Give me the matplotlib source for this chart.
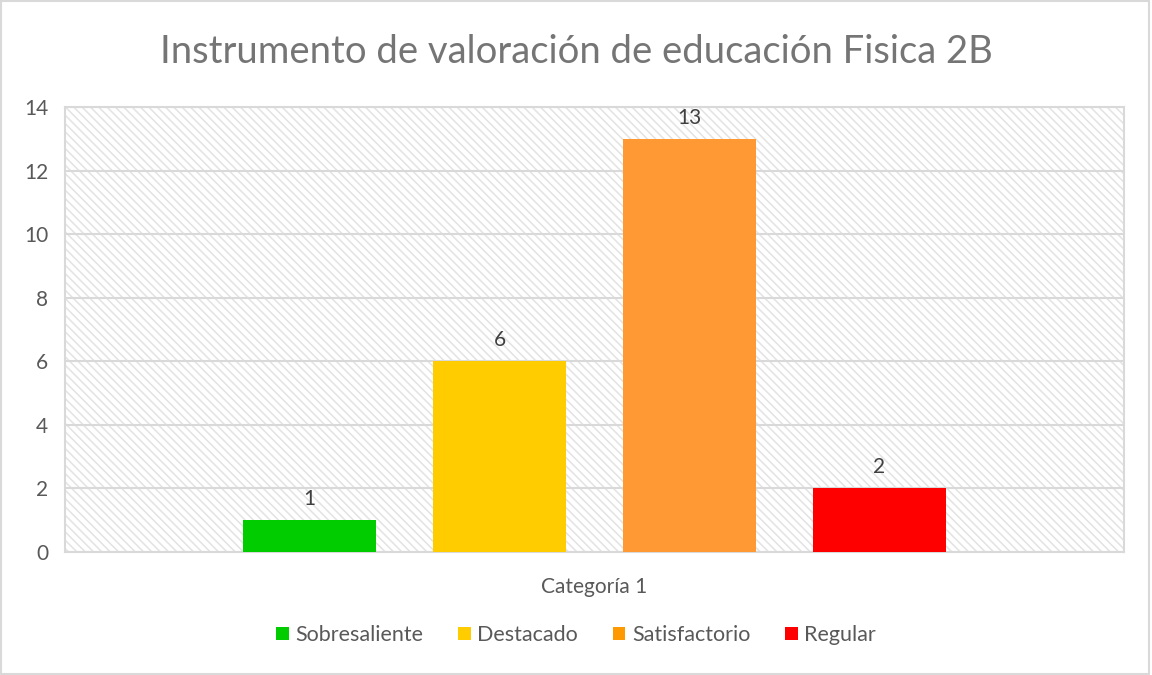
import matplotlib
matplotlib.use("Agg")
import matplotlib.pyplot as plt
from matplotlib.patches import Rectangle, Patch

categories = ["Categoría 1"]
series = ["Sobresaliente", "Destacado", "Satisfactorio", "Regular"]
values = [1, 6, 13, 2]
colors = ["#00CC00", "#FFCC00", "#FF9933", "#FF0000"]
legend_colors = ["#00CC00", "#FFCC00", "#FF9900", "#FF0000"]
yticks = [0, 2, 4, 6, 8, 10, 12, 14]
title = "Instrumento de valoración de educación Fisica 2B"

FONT = "Lato"
plt.rcParams["font.family"] = [FONT, "DejaVu Sans"]
plt.rcParams["hatch.linewidth"] = 1.1

fig = plt.figure(figsize=(11.52, 6.75), dpi=100)
ax = fig.add_axes([65/1152, 1-552/675, (1124-65)/1152, (552-107)/675])

# hatched background
bg = Rectangle((0, 0), 1, 1, transform=ax.transAxes, facecolor="white",
               edgecolor="#e3e3e3", linewidth=0, hatch="\\\\\\\\", zorder=0)
ax.add_patch(bg)
ax.set_facecolor("white")

spacing = 190/1059
width = 133/1059
for i, (s, v, c) in enumerate(zip(series, values, colors)):
    x = (i - 1.5) * spacing
    ax.bar(x, v, width=width, color=c, zorder=3, label=s)
    ax.text(x, v + 0.35, str(v), ha="center", va="bottom", fontsize=15,
            color="#404040", zorder=4)

ax.set_xlim(-0.5, 0.5)
ax.set_ylim(0, 14)
ax.set_yticks(yticks)
ax.set_yticklabels([str(t) for t in yticks], fontsize=15, color="#595959")
ax.set_xticks([0])
ax.set_xticklabels(categories, fontsize=15, color="#595959")
ax.tick_params(axis="x", length=0, pad=18)
ax.tick_params(axis="y", length=0, pad=12)
ax.yaxis.grid(True, color="#d9d9d9", linewidth=1.5, zorder=1)
ax.set_axisbelow(True)
for sp in ax.spines.values():
    sp.set_color("#d9d9d9")
    sp.set_linewidth(1.5)

fig.text(0.5, 1-52/675, title, ha="center", va="center", fontsize=27.5,
         color="#757575")

handles = [Patch(facecolor=c, edgecolor="none") for c in legend_colors]
fig.legend(handles, series, loc="center", bbox_to_anchor=(0.5, 1-635/675),
           ncol=4, frameon=False, fontsize=15.5, handlelength=0.6,
           handleheight=0.6, handletextpad=0.3, columnspacing=1.6,
           labelcolor="#595959")

fig.add_artist(Rectangle((0.001, 0.002), 0.996, 0.996, transform=fig.transFigure,
                         fill=False, edgecolor="#d9d9d9", linewidth=1.5))

fig.savefig("out.png", dpi=100)
